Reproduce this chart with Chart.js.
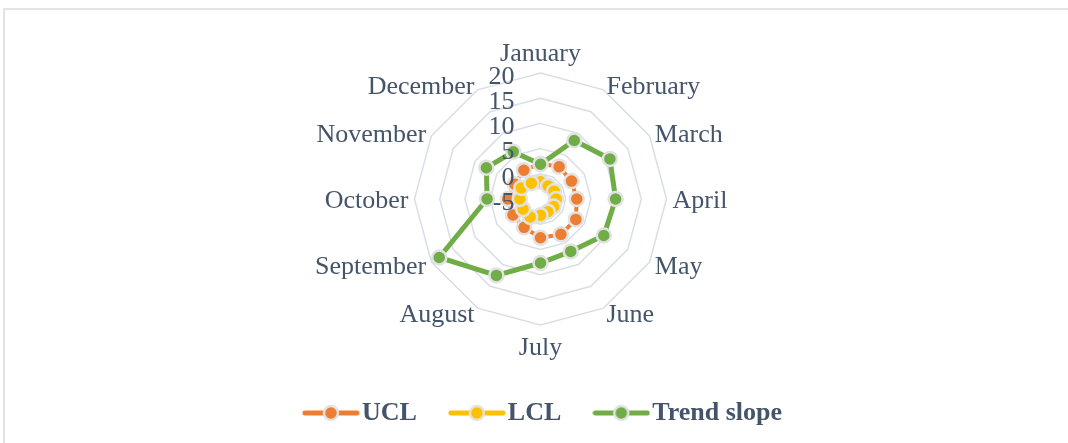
<!DOCTYPE html>
<html>
<head>
<meta charset="utf-8">
<script src="https://cdn.jsdelivr.net/npm/chart.js@4.4.0/dist/chart.umd.min.js"></script>
<style>
  html, body { margin: 0; padding: 0; background: #fff; overflow: hidden; }
  #frame { position: absolute; left: 3px; top: 8px; width: 1120px; height: 480px; border: 2px solid #e1e5ea; }
  #radar { position: absolute; left: 0; top: 0; }
</style>
</head>
<body>
<div id="frame"></div>
<canvas id="radar" width="1095" height="443"></canvas>
<script>
var months = ['January', 'February', 'March', 'April', 'May', 'June',
              'July', 'August', 'September', 'October', 'November', 'December'];
var ucl = [2.0, 2.4, 2.1, 2.2, 3.1, 3.1, 2.7, 1.5, 1.3, 1.5, 0.9, 1.6];
var lcl = [-1.6, -2.0, -1.9, -1.9, -2.0, -2.1, -1.8, -0.9, -1.0, -0.9, -0.6, -1.4];
var trendSlope = [1.9, 8.4, 10.9, 9.9, 9.5, 7.0, 7.7, 12.5, 18.2, 5.6, 7.4, 5.8];
var tickValues = [-5, 0, 5, 10, 15, 20];

var textColor = '#44546A';
var markerEdge = '#e2e2e2';
var serif = '"Liberation Serif", "Times New Roman", serif';

// legend swatch: short line with a marker in the middle, like Excel
function legendIcon(color) {
    var c = document.createElement('canvas');
    c.width = 58;
    c.height = 20;
    var g = c.getContext('2d');
    g.strokeStyle = color;
    g.lineWidth = 5;
    g.lineCap = 'round';
    g.beginPath();
    g.moveTo(3, 10);
    g.lineTo(55, 10);
    g.stroke();
    g.beginPath();
    g.arc(29, 10, 7, 0, Math.PI * 2);
    g.fillStyle = color;
    g.fill();
    g.lineWidth = 2.5;
    g.strokeStyle = markerEdge;
    g.stroke();
    return c;
}

function series(label, values, color, width, order) {
    return {
        label: label,
        data: values,
        borderColor: color,
        backgroundColor: color,
        borderWidth: width,
        fill: false,
        pointRadius: 7,
        pointBorderWidth: 2.5,
        pointBorderColor: markerEdge,
        pointBackgroundColor: color,
        order: order
    };
}

var icons = [legendIcon('#ED7D31'), legendIcon('#FFC000'), legendIcon('#70AD47')];

// tick numbers and month names are placed the way Excel puts them
var excelLabels = {
    id: 'excelLabels',
    afterDatasetsDraw: function (chart) {
        var scale = chart.scales.r;
        var ctx = chart.ctx;
        ctx.save();
        ctx.fillStyle = textColor;
        ctx.font = '26px ' + serif;
        ctx.textBaseline = 'middle';
        ctx.textAlign = 'right';
        scale.ticks.forEach(function (tick) {
            var d = scale.getDistanceFromCenterForValue(tick.value);
            ctx.fillText(String(tick.value), scale.xCenter - 26, scale.yCenter - d + 4);
        });
        months.forEach(function (m, i) {
            var deg = i * 360 / months.length;
            var vertical = deg === 0 || deg === 180;
            var p = scale.getPointPosition(i, scale.drawingArea + 6 + (vertical ? 15 : 0));
            ctx.textAlign = vertical ? 'center' : (deg < 180 ? 'left' : 'right');
            ctx.fillText(m, p.x, p.y + 2);
        });
        ctx.restore();
    }
};

new Chart(document.getElementById('radar'), {
    type: 'radar',
    data: {
        labels: months,
        datasets: [
            series('UCL', ucl, '#ED7D31', 4, 3),
            series('LCL', lcl, '#FFC000', 4, 2),
            series('Trend slope', trendSlope, '#70AD47', 5, 1)
        ]
    },
    options: {
        responsive: false,
        devicePixelRatio: 1,
        animation: false,
        layout: { padding: { top: 0, left: 0, right: 0, bottom: 7 } },
        elements: { line: { tension: 0 } },
        scales: {
            r: {
                min: -5,
                max: 20,
                afterBuildTicks: function (scale) {
                    scale.ticks = tickValues.map(function (v) { return { value: v }; });
                },
                afterFit: function (scale) {
                    scale.xCenter = 540.5;
                    scale.yCenter = 199;
                    scale.drawingArea = 126;
                },
                ticks: { display: false },
                pointLabels: { display: false },
                angleLines: { display: false },
                grid: { color: '#d9dee6', lineWidth: 1.5 }
            }
        },
        plugins: {
            tooltip: { enabled: false },
            legend: {
                position: 'bottom',
                labels: {
                    usePointStyle: true,
                    pointStyleWidth: 36,
                    padding: 42,
                    color: textColor,
                    font: { family: serif, size: 26, weight: 'bold' },
                    sort: function (a, b) { return a.datasetIndex - b.datasetIndex; },
                    generateLabels: function (chart) {
                        var items = Chart.defaults.plugins.legend.labels.generateLabels(chart);
                        items.forEach(function (it) { it.pointStyle = icons[it.datasetIndex]; });
                        return items;
                    }
                }
            }
        }
    },
    plugins: [excelLabels]
});
</script>
</body>
</html>
